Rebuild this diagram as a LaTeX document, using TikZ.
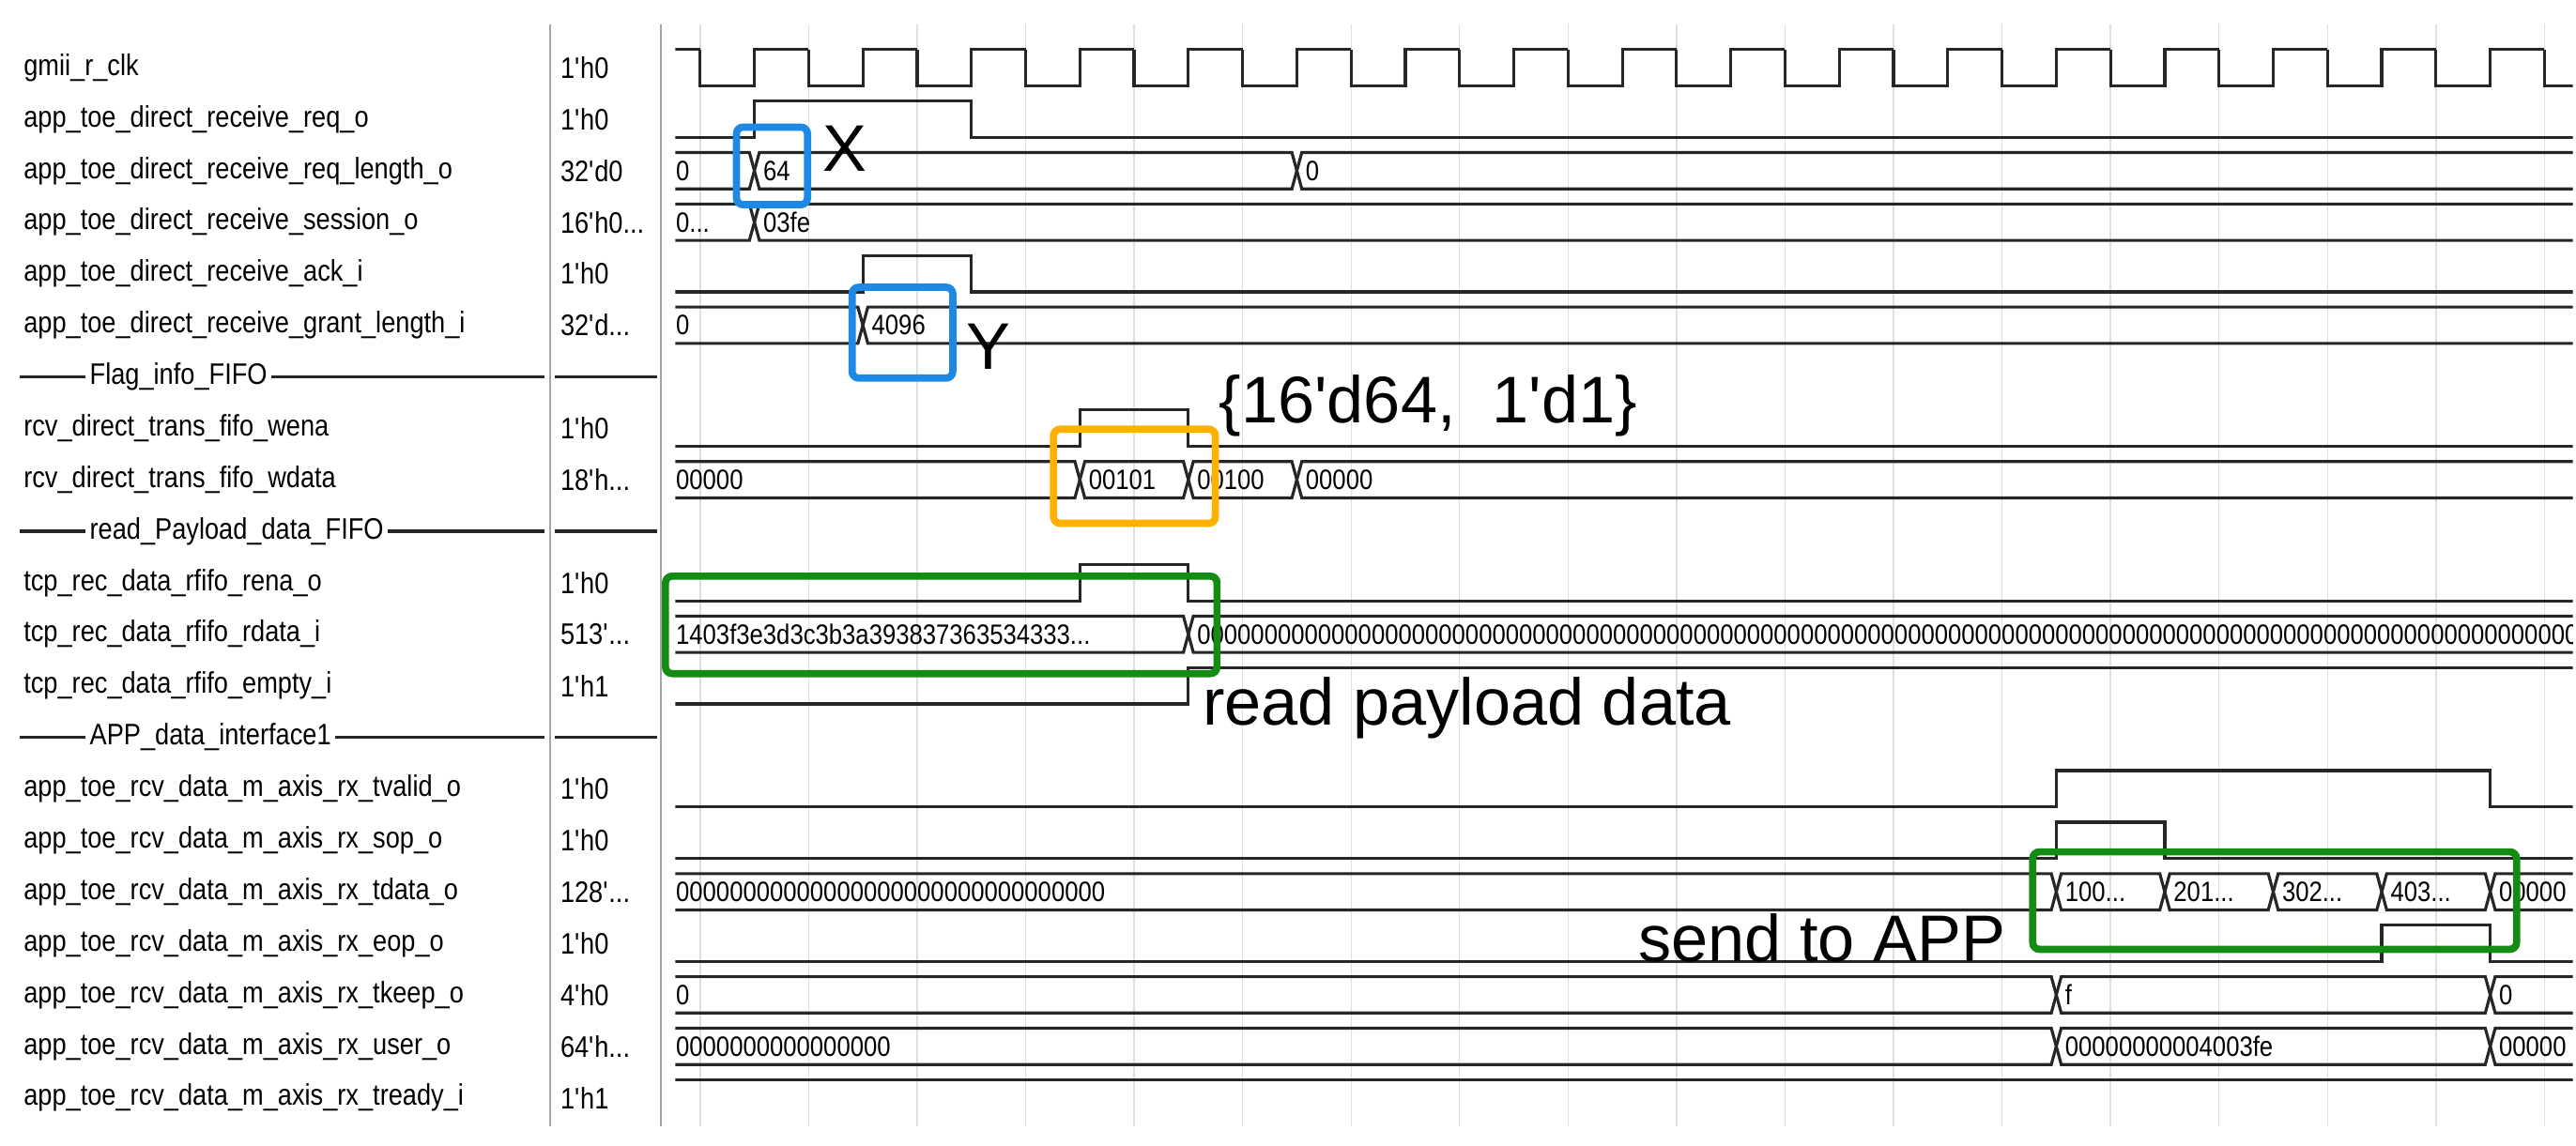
\documentclass[tikz,border=0pt]{standalone}
\usepackage{fontspec}
\setmainfont{Liberation Sans}
\newfontfamily\sigfont{Liberation Sans}[FakeStretch=0.86]
\newcommand\sig{\sigfont\fontsize{9}{10}\selectfont}
\newcommand\val{\sigfont\fontsize{8.5}{9}\selectfont}
\newcommand\note{\fontsize{20}{22}\selectfont}
\newcommand\q{\textquotesingle}
\newcommand\trunc{...}
% time of half clock period n, and row n
\newcommand\hx[1]{424+32.85*#1}
\newcommand\ry[1]{41+31.2*#1}
% bus segment: row, from, to, value
\newcommand\busseg[4]{%
  \draw[wave] (#2,\ry{#1}) -- (#2+3,\ry{#1}-11) -- (#3-3,\ry{#1}-11) -- (#3,\ry{#1})
    -- (#3-3,\ry{#1}+11) -- (#2+3,\ry{#1}+11) -- cycle;
  \node[buslab] at (#2+5,\ry{#1}) {#4};}
\definecolor{boxblue}{RGB}{30,136,229}
\definecolor{boxorange}{RGB}{255,176,0}
\definecolor{boxgreen}{RGB}{20,140,20}
\tikzset{
  wave/.style={line width=0.9pt,black!85},
  lab/.style={font=\sig,anchor=west,inner sep=1pt},
  vlab/.style={font=\sig,anchor=west,inner sep=0pt},
  buslab/.style={font=\val,anchor=west,inner sep=0pt},
  grid/.style={gray!25,line width=0.4pt},
  hibox/.style={line width=2.2pt,rounded corners=2pt},
  note/.style={font=\note,anchor=west,inner sep=0pt}
}
\begin{document}
\begin{tikzpicture}[x=0.01759cm,y=-0.01759cm]
\useasboundingbox (0,0) rectangle (1560,694);

% grid and column dividers
\foreach \k in {0,...,17}
  \draw[grid] ({424+65.7*\k},15) -- ({424+65.7*\k},682);
\draw[gray!70,line width=0.6pt] (333,15) -- (333,682);
\draw[gray!70,line width=0.6pt] (400,15) -- (400,682);

% signal names and values
\foreach \n/\name/\v in {0/gmii\_r\_clk/1\q h0,
  1/app\_toe\_direct\_receive\_req\_o/1\q h0,
  2/app\_toe\_direct\_receive\_req\_length\_o/32\q d0,
  3/app\_toe\_direct\_receive\_session\_o/16\q h0\trunc,
  4/app\_toe\_direct\_receive\_ack\_i/1\q h0,
  5/app\_toe\_direct\_receive\_grant\_length\_i/32\q d\trunc,
  7/rcv\_direct\_trans\_fifo\_wena/1\q h0,
  8/rcv\_direct\_trans\_fifo\_wdata/18\q h\trunc,
  10/tcp\_rec\_data\_rfifo\_rena\_o/1\q h0,
  11/tcp\_rec\_data\_rfifo\_rdata\_i/513\q\trunc,
  12/tcp\_rec\_data\_rfifo\_empty\_i/1\q h1,
  14/app\_toe\_rcv\_data\_m\_axis\_rx\_tvalid\_o/1\q h0,
  15/app\_toe\_rcv\_data\_m\_axis\_rx\_sop\_o/1\q h0,
  16/app\_toe\_rcv\_data\_m\_axis\_rx\_tdata\_o/128\q\trunc,
  17/app\_toe\_rcv\_data\_m\_axis\_rx\_eop\_o/1\q h0,
  18/app\_toe\_rcv\_data\_m\_axis\_rx\_tkeep\_o/4\q h0,
  19/app\_toe\_rcv\_data\_m\_axis\_rx\_user\_o/64\q h\trunc,
  20/app\_toe\_rcv\_data\_m\_axis\_rx\_tready\_i/1\q h1}{
  \node[lab] (name\n) at (12,\ry{\n}) {\name};
  \node[vlab] (val\n) at (339,\ry{\n}) {\v};
}

% group headers
\foreach \n/\grp in {6/Flag\_info\_FIFO, 9/read\_Payload\_data\_FIFO, 13/APP\_data\_interface1}{
  \node[lab] (grp\n) at (52,\ry{\n}) {\grp};
  \draw[wave] (12,\ry{\n}) -- (grp\n.west);
  \draw[wave] (grp\n.east) -- (330,\ry{\n});
  \draw[wave] (336,\ry{\n}) -- (398,\ry{\n});
}

\begin{scope}
\clip (409,0) rectangle (1558,694);
% clock
\draw[wave] (405,30) -- (424,30);
\foreach \k in {0,...,17}
  \draw[wave] ({424+65.7*\k},30) -- ({424+65.7*\k},52) -- ({456.85+65.7*\k},52)
    -- ({456.85+65.7*\k},30) -- ({489.7+65.7*\k},30);

% single bits
\draw[wave] (405,\ry{1}+11) -- (\hx{1},\ry{1}+11) -- (\hx{1},\ry{1}-11) -- (\hx{5},\ry{1}-11)
  -- (\hx{5},\ry{1}+11) -- (1565,\ry{1}+11);
\draw[wave] (405,\ry{4}+11) -- (\hx{3},\ry{4}+11) -- (\hx{3},\ry{4}-11) -- (\hx{5},\ry{4}-11)
  -- (\hx{5},\ry{4}+11) -- (1565,\ry{4}+11);
\draw[wave] (405,\ry{7}+11) -- (\hx{7},\ry{7}+11) -- (\hx{7},\ry{7}-11) -- (\hx{9},\ry{7}-11)
  -- (\hx{9},\ry{7}+11) -- (1565,\ry{7}+11);
\draw[wave] (405,\ry{10}+11) -- (\hx{7},\ry{10}+11) -- (\hx{7},\ry{10}-11) -- (\hx{9},\ry{10}-11)
  -- (\hx{9},\ry{10}+11) -- (1565,\ry{10}+11);
\draw[wave] (405,\ry{12}+11) -- (\hx{9},\ry{12}+11) -- (\hx{9},\ry{12}-11) -- (1565,\ry{12}-11);
\draw[wave] (405,\ry{14}+11) -- (\hx{25},\ry{14}+11) -- (\hx{25},\ry{14}-11) -- (\hx{33},\ry{14}-11)
  -- (\hx{33},\ry{14}+11) -- (1565,\ry{14}+11);
\draw[wave] (405,\ry{15}+11) -- (\hx{25},\ry{15}+11) -- (\hx{25},\ry{15}-11) -- (\hx{27},\ry{15}-11)
  -- (\hx{27},\ry{15}+11) -- (1565,\ry{15}+11);
\draw[wave] (405,\ry{17}+11) -- (\hx{31},\ry{17}+11) -- (\hx{31},\ry{17}-11) -- (\hx{33},\ry{17}-11)
  -- (\hx{33},\ry{17}+11) -- (1565,\ry{17}+11);
\draw[wave] (405,\ry{20}-11) -- (1565,\ry{20}-11);

% buses
\busseg{2}{404}{\hx{1}}{0}
\busseg{2}{\hx{1}}{\hx{11}}{64}
\busseg{2}{\hx{11}}{1570}{0}
\busseg{3}{404}{\hx{1}}{0...}
\busseg{3}{\hx{1}}{1570}{03fe}
\busseg{5}{404}{\hx{3}}{0}
\busseg{5}{\hx{3}}{1570}{4096}
\busseg{8}{404}{\hx{7}}{00000}
\busseg{8}{\hx{7}}{\hx{9}}{00101}
\busseg{8}{\hx{9}}{\hx{11}}{00100}
\busseg{8}{\hx{11}}{1570}{00000}
\busseg{11}{404}{\hx{9}}{1403f3e3d3c3b3a393837363534333...}
\busseg{11}{\hx{9}}{1570}{000000000000000000000000000000000000000000000000000000000000000000000000000000000000000000000000000000000}
\busseg{16}{404}{\hx{25}}{00000000000000000000000000000000}
\busseg{16}{\hx{25}}{\hx{27}}{100...}
\busseg{16}{\hx{27}}{\hx{29}}{201...}
\busseg{16}{\hx{29}}{\hx{31}}{302...}
\busseg{16}{\hx{31}}{\hx{33}}{403...}
\busseg{16}{\hx{33}}{1570}{00000}
\busseg{18}{404}{\hx{25}}{0}
\busseg{18}{\hx{25}}{\hx{33}}{f}
\busseg{18}{\hx{33}}{1570}{0}
\busseg{19}{404}{\hx{25}}{0000000000000000}
\busseg{19}{\hx{25}}{\hx{33}}{00000000004003fe}
\busseg{19}{\hx{33}}{1570}{00000}
\end{scope}

% marks and notes
\draw[hibox,boxblue] (446,77) rectangle (489,124);
\node[note] (noteX) at (498,90) {X};
\draw[hibox,boxblue] (516,174) rectangle (577,229);
\node[note] (noteY) at (585,210) {Y};
\draw[hibox,boxorange] (638,260) rectangle (736,317);
\node[note] (noteFlag) at (738,246) {\{16\q d64,\ \ 1\q d1\}};
\draw[hibox,boxgreen] (403,349) rectangle (737,408);
\node[note] (notePay) at (728,429) {read payload data};
\draw[hibox,boxgreen] (1231,516) rectangle (1524,575);
\node[note] (noteApp) at (992,568) {send to APP};
\end{tikzpicture}
\end{document}
